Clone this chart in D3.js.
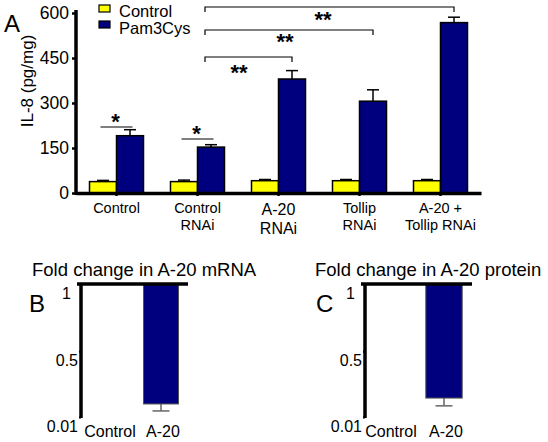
<!DOCTYPE html>
<html><head><meta charset="utf-8">
<script src="https://cdn.jsdelivr.net/npm/d3@7"></script>
<style>body{margin:0;background:#fff}svg{display:block;font-family:"Liberation Sans",Arial,sans-serif}</style>
</head><body><svg id="c" width="548" height="442"></svg>
<script>
// ---- Panel A data ----
const categories = ["Control", "Control RNAi", "A-20 RNAi", "Tollip RNAi", "A-20 + Tollip RNAi"];
const categoryLines = [["Control"], ["Control", "RNAi"], ["A-20", "RNAi"], ["Tollip", "RNAi"], ["A-20 +", "Tollip RNAi"]];
const seriesNames = ["Control", "Pam3Cys"];
const controlValues = [38, 38, 41, 41, 41];
const controlErrors = [4, 5, 4, 4, 4];
const pam3cysValues = [191, 153, 380, 306, 568];
const pam3cysErrors = [20, 8, 28, 38, 18];
const yTicksA = [0, 150, 300, 450, 600];
// ---- Panel B / C data ----
const foldCategories = ["Control", "A-20"];
const mrnaValues = [1, 0.107];
const mrnaErrors = [0, 0.052];
const proteinValues = [1, 0.151];
const proteinErrors = [0, 0.058];
const foldTicks = [0.01, 0.5, 1];

const colors = {Control: "#ffff00", Pam3Cys: "#00007f"};
const svg = d3.select("#c");

// ===== Panel A =====
const x0 = d3.scaleBand().domain(categories).range([76, 481]);
const x1 = d3.scaleBand().domain(seriesNames).range([0, 54]);
const y = d3.scaleLinear().domain([0, 600]).range([193, 13]);

const gA = svg.append("g");
const yAx = gA.append("g").attr("transform", "translate(76,0)")
  .call(d3.axisLeft(y).tickValues(yTicksA).tickSize(4).tickSizeOuter(0).tickPadding(3));
yAx.select(".domain").attr("stroke", "#000").attr("stroke-width", 3.5).attr("d", "M0,195V10");
yAx.selectAll(".tick line").attr("stroke-width", 2.5);
yAx.selectAll(".tick text").attr("font-size", 17.5).attr("font-family", "Liberation Sans, Arial").attr("fill", "#000");

const xAx = gA.append("g").attr("transform", "translate(0,193)")
  .call(d3.axisBottom(x0).tickSize(3).tickSizeOuter(0).tickFormat(""));
xAx.select(".domain").attr("stroke", "#000").attr("stroke-width", 3.5);
xAx.selectAll(".tick line").attr("stroke-width", 2.5);

const bars = [];
categories.forEach((c, i) => {
  bars.push({cat: c, s: "Control", v: controlValues[i], e: controlErrors[i]});
  bars.push({cat: c, s: "Pam3Cys", v: pam3cysValues[i], e: pam3cysErrors[i]});
});
const bx = d => x0(d.cat) + x0.bandwidth() / 2 - 27 + x1(d.s);
gA.selectAll(".err").data(bars).join("g").each(function(d) {
  const g = d3.select(this), cx = bx(d) + x1.bandwidth() / 2;
  g.append("line").attr("x1", cx).attr("x2", cx).attr("y1", y(d.v)).attr("y2", y(d.v + d.e)).attr("stroke", "#000").attr("stroke-width", 1.5);
  g.append("line").attr("x1", cx - 6).attr("x2", cx + 6).attr("y1", y(d.v + d.e)).attr("y2", y(d.v + d.e)).attr("stroke", "#000").attr("stroke-width", 1.5);
});
gA.selectAll(".bar").data(bars).join("rect")
  .attr("x", bx).attr("width", x1.bandwidth())
  .attr("y", d => y(d.v)).attr("height", d => y(0) - y(d.v))
  .attr("fill", d => colors[d.s]).attr("stroke", "#000").attr("stroke-width", 1.5);
xAx.raise();

// x labels
categories.forEach((c, i) => {
  const big = i === 2;
  const cx = x0(c) + x0.bandwidth() / 2;
  const t = gA.append("text").attr("text-anchor", "middle").attr("font-size", big ? 16 : 14.5)
    .attr("x", cx).attr("y", big ? 215 : 213);
  categoryLines[i].forEach((ln, j) => t.append("tspan").attr("x", cx).attr("dy", j ? (big ? 18.5 : 17) : 0).text(ln));
});

// y label
gA.append("text").attr("transform", "translate(33,81) rotate(-90)").attr("text-anchor", "middle")
  .attr("font-size", 17).text("IL-8 (pg/mg)");
gA.append("text").attr("x", 4).attr("y", 32).attr("font-size", 24).text("A");

// legend
seriesNames.forEach((s, i) => {
  gA.append("rect").attr("x", 99).attr("y", 5 + i * 16).attr("width", 11).attr("height", 7)
    .attr("fill", colors[s]).attr("stroke", "#000").attr("stroke-width", 1.2);
  gA.append("text").attr("x", 119).attr("y", 17 + i * 16.5).attr("font-size", 16.5).text(s);
});

// significance
const mid = (c, s) => x0(c) + x0.bandwidth() / 2 - 27 + x1(s) + x1.bandwidth() / 2;
[[0, 127, 117], [1, 139, 129]].forEach(([i, ly, sy]) => {
  const c = x0(categories[i]) + x0.bandwidth() / 2;
  gA.append("line").attr("x1", c - 16).attr("x2", c + 16).attr("y1", ly).attr("y2", ly).attr("stroke", "#000").attr("stroke-width", 1.2);
  gA.append("text").attr("x", c - 1).attr("y", sy + 12).attr("text-anchor", "middle").attr("font-size", 22).attr("font-weight", "bold").text("*");
});
const leftB = mid(categories[1], "Pam3Cys") - 6;
[[2, 57, 239, 68], [3, 30, 285, 37], [4, 7, 323, 15]].forEach(([i, ly, sx, sy]) => {
  const r = mid(categories[i], "Pam3Cys");
  gA.append("path").attr("d", `M${leftB},${ly + 5}V${ly}H${r}V${ly + 5}`).attr("fill", "none").attr("stroke", "#000").attr("stroke-width", 1.2);
  gA.append("text").attr("x", sx).attr("y", sy + 12).attr("text-anchor", "middle").attr("font-size", 22).attr("font-weight", "bold").text("**");
});

// ===== Panels B and C =====
function foldPanel(axisX, range, values, errors, title, titleX, letter, letterX) {
  const g = svg.append("g");
  const yf = d3.scaleLinear().domain([0.01, 1]).range([417, 284]);
  const xf = d3.scaleBand().domain(foldCategories).range(range).paddingInner(0.3).paddingOuter(0.15);
  const ax = g.append("g").attr("transform", `translate(${axisX},0)`)
    .call(d3.axisLeft(yf).tickValues(foldTicks).tickSize(2).tickSizeOuter(0).tickPadding(1)
      .tickFormat(d => d === 0.01 ? "0.01" : d === 0.5 ? "0.5" : "1"));
  ax.select(".domain").attr("stroke", "#000").attr("stroke-width", 3.5).attr("d", "M0,418V284");
  ax.selectAll(".tick text").attr("font-size", 16).attr("fill", "#000").attr("dy", "0.9em").attr("font-family", "Liberation Sans, Arial");
  ax.selectAll(".tick").filter(d => d === 1).select("text").attr("x", -10);
  ax.selectAll(".tick line").attr("stroke-width", 2);
  // bars hang from 1
  foldCategories.forEach((c, i) => {
    if (values[i] < 1) {
      const cx = xf(c) + xf.bandwidth() / 2;
      g.append("line").attr("x1", cx).attr("x2", cx).attr("y1", yf(values[i])).attr("y2", yf(values[i] - errors[i])).attr("stroke", "#666").attr("stroke-width", 1.5);
      g.append("line").attr("x1", cx - 8.5).attr("x2", cx + 8.5).attr("y1", yf(values[i] - errors[i])).attr("y2", yf(values[i] - errors[i])).attr("stroke", "#666").attr("stroke-width", 1.5);
      g.append("rect").attr("x", xf(c)).attr("width", xf.bandwidth()).attr("y", yf(1)).attr("height", yf(values[i]) - yf(1))
        .attr("fill", "#00007f").attr("stroke", "#555").attr("stroke-width", 1);
    }
    g.append("text").attr("x", xf(c) + xf.bandwidth() / 2 + (i ? 2 : -1)).attr("y", 437).attr("text-anchor", "middle").attr("font-size", 16).text(c);
  });
  g.append("line").attr("x1", axisX - 4).attr("x2", range[1] + 2).attr("y1", yf(1)).attr("y2", yf(1)).attr("stroke", "#000").attr("stroke-width", 3.5);
  g.append("text").attr("x", titleX).attr("y", 276).attr("font-size", 18.5).text(title);
  g.append("text").attr("x", letterX).attr("y", 312).attr("font-size", 24).text(letter);
}
foldPanel(81, [86, 186], mrnaValues, mrnaErrors, "Fold change in A-20 mRNA", 32, "B", 29);
foldPanel(365, [366, 470], proteinValues, proteinErrors, "Fold change in A-20 protein", 315, "C", 316);
</script></body></html>
